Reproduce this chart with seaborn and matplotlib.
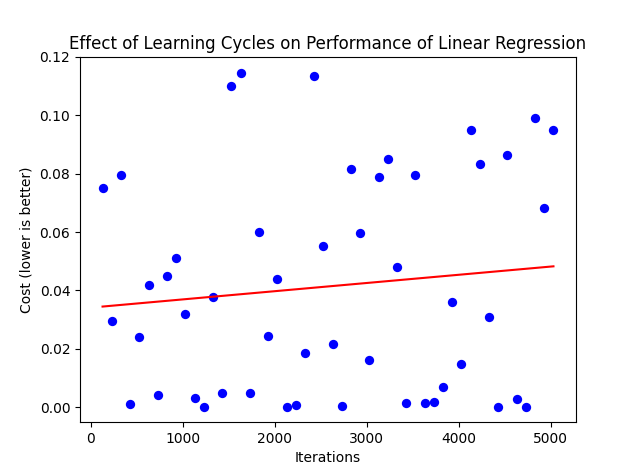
import numpy as np
import matplotlib
matplotlib.use("Agg")
import matplotlib.pyplot as plt
import seaborn as sns

iterations = list(range(130, 5031, 100))
cost = [0.075, 0.0294, 0.0795, 0.001, 0.0239, 0.042, 0.0042, 0.045, 0.051, 0.0318,
        0.0031, 0.0002, 0.0377, 0.0048, 0.110, 0.1145, 0.0048, 0.060, 0.0245, 0.0438,
        0.0001, 0.0008, 0.0187, 0.1135, 0.0553, 0.0215, 0.0004, 0.0817, 0.0597, 0.0162,
        0.079, 0.0849, 0.0479, 0.0014, 0.0795, 0.0014, 0.0018, 0.007, 0.0359, 0.0149,
        0.0949, 0.0834, 0.031, 0.0001, 0.0865, 0.0028, 0.0002, 0.0990, 0.0683, 0.0949]

fig, ax = plt.subplots(figsize=(6.4, 4.74), dpi=100)
sns.scatterplot(x=iterations, y=cost, color="blue", s=45, edgecolor="blue", linewidth=0, ax=ax)
x = np.array(iterations)
m, b = np.polyfit(x, cost, 1)
ax.plot(x, m * x + b, color="red")
ax.set_ylim(-0.005, 0.12)
ax.set_title("Effect of Learning Cycles on Performance of Linear Regression")
ax.set_xlabel("Iterations")
ax.set_ylabel("Cost (lower is better)")
fig.savefig("out.png")
